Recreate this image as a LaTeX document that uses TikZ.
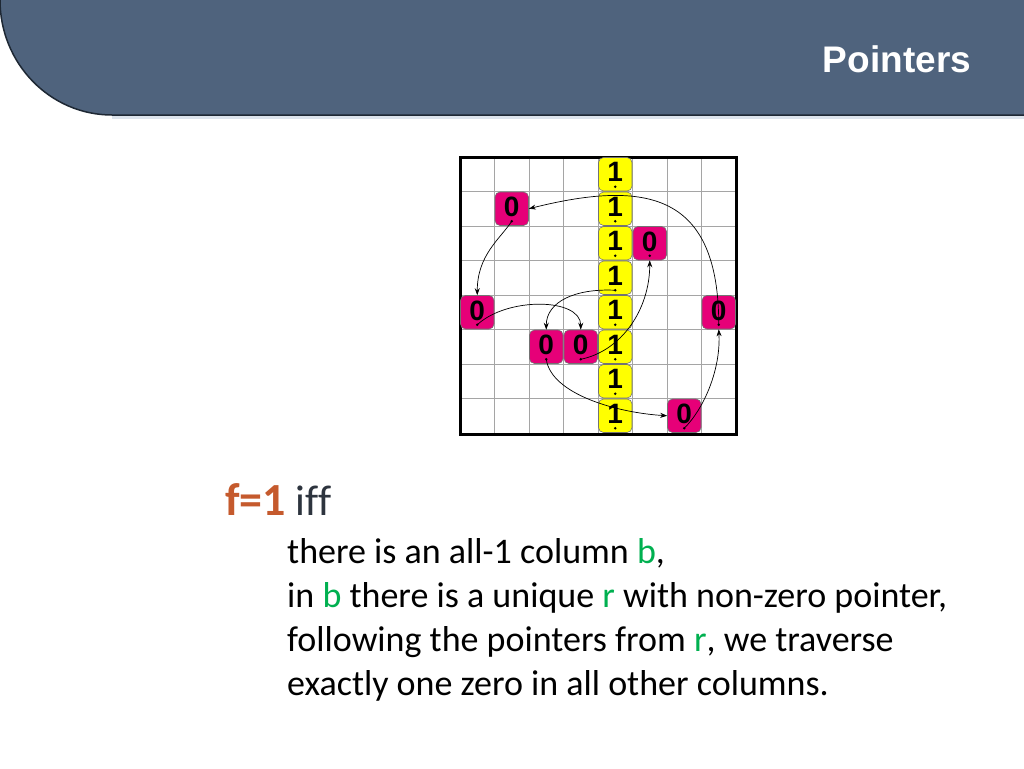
\documentclass[tikz,border=0pt]{standalone}
\usepackage{fontspec}
\setmainfont{Carlito}[Ligatures=NoCommon]
\newfontfamily\arialf{Liberation Sans}
\usetikzlibrary{arrows.meta,calc}
\definecolor{hdr}{RGB}{79,99,125}
\definecolor{hdrline}{RGB}{30,40,52}
\definecolor{hdrshadow}{RGB}{220,227,236}
\definecolor{pinkc}{RGB}{230,0,120}
\definecolor{yellowc}{RGB}{255,255,0}
\definecolor{fcol}{RGB}{197,90,45}
\definecolor{iffcol}{RGB}{45,52,62}
\definecolor{grn}{RGB}{0,176,80}
\definecolor{gridc}{RGB}{165,165,165}
\tikzset{
  cell/.style={draw=black!55, line width=0.6pt, rounded corners=5pt,
    minimum width=33.5pt, minimum height=33.5pt, inner sep=0pt, text depth=4pt,
    font=\arialf\bfseries\fontsize{28}{28}\selectfont},
  one/.style={cell, fill=yellowc},
  zero/.style={cell, fill=pinkc},
  ptr/.style={line width=0.7pt, -{Stealth[length=7pt,width=5pt]}},
  ptrdot/.style={fill=black},
  body/.style={anchor=base west, inner sep=0pt, font=\fontsize{36}{36}\selectfont, text=black},
}
\begin{document}
\begin{tikzpicture}[x=1pt,y=-1pt]
\useasboundingbox (0,0) rectangle (1024,768);
% header
\fill[hdrshadow] (112,116) rectangle (1024,118.5);
\fill[hdr] (0,0) -- (1024,0) -- (1024,115) -- (112,115) .. controls (50,115) and (0,63.5) .. (0,0) -- cycle;
\draw[hdrline, line width=1.5pt] (1024,115) -- (112,115) .. controls (50,115) and (0,63.5) .. (0,0);
\node[anchor=base, inner sep=0pt, text=white, font=\arialf\bfseries\fontsize{37}{37}\selectfont] (title) at (897,72) {Pointers};
% grid
\foreach \i in {1,...,7} {
  \draw[gridc, line width=0.8pt] (460+34.5*\i,157) -- (460+34.5*\i,434);
  \draw[gridc, line width=0.8pt] (460,157+34.5*\i) -- (736,157+34.5*\i);
}
\draw[line width=3pt] (460,157) rectangle (736,434);
% column of ones
\node[one] (c04) at (615.25,174.25) {1};
\node[one] (c14) at (615.25,208.75) {1};
\node[one] (c24) at (615.25,243.25) {1};
\node[one] (c34) at (615.25,277.75) {1};
\node[one] (c44) at (615.25,312.25) {1};
\node[one] (c54) at (615.25,346.75) {1};
\node[one] (c64) at (615.25,381.25) {1};
\node[one] (c74) at (615.25,415.75) {1};
% zeros
\node[zero] (c11) at (511.75,208.75) {0};
\node[zero] (c25) at (649.75,243.25) {0};
\node[zero] (c40) at (477.25,312.25) {0};
\node[zero] (c47) at (718.75,312.25) {0};
\node[zero] (c52) at (546.25,346.75) {0};
\node[zero] (c53) at (580.75,346.75) {0};
\node[zero] (c76) at (684.25,415.75) {0};
% pointer origins
\foreach \n in {c04,c14,c24,c34,c44,c54,c64,c74,c11,c25,c40,c47,c52,c53,c76} {
  \coordinate (d\n) at ($(\n.center)+(0,12.5)$);
}
% pointers
\draw[ptr] (dc34) .. controls +(-40,-2) and +(0,-28) .. (c52.north);
\draw[ptr] (dc52) .. controls +(5,35) and +(-50,-3) .. (c76.west);
\draw[ptr] (dc76) .. controls +(20,-20) and +(2,40) .. (c47.south);
\draw[ptr] (dc47) .. controls +(0,-130) and +(120,-30) .. (c11.east);
\draw[ptr] (dc11) .. controls +(-12,18) and +(0,-40) .. (c40.north);
\draw[ptr] (dc40) .. controls +(30,-28) and +(0,-32) .. (c53.north);
\draw[ptr] (dc53) .. controls +(40,-8) and +(0,50) .. (c25.south);
\foreach \n in {c04,c14,c24,c34,c44,c54,c64,c74,c11,c25,c40,c47,c52,c53,c76} {
  \fill[ptrdot] (d\n) circle (1.3);
}
% text
\node[anchor=base west, inner sep=0pt, font=\fontsize{43}{43}\selectfont] (f1) at (225,515) {\textcolor{fcol}{\fontsize{46}{46}\selectfont\textbf{f=1}}\hspace{10pt}\textcolor{iffcol}{iff}};
\node[body] (l1) at (287,563) {there is an all-1 column \textcolor{grn}{b},};
\node[body] (l2) at (287,607) {in \textcolor{grn}{b} there is a unique \textcolor{grn}{r} with non-zero pointer,};
\node[body] (l3) at (287,651) {following the pointers from \textcolor{grn}{r}, we traverse};
\node[body] (l4) at (287,695) {exactly one zero in all other columns.};
\end{tikzpicture}
\end{document}
